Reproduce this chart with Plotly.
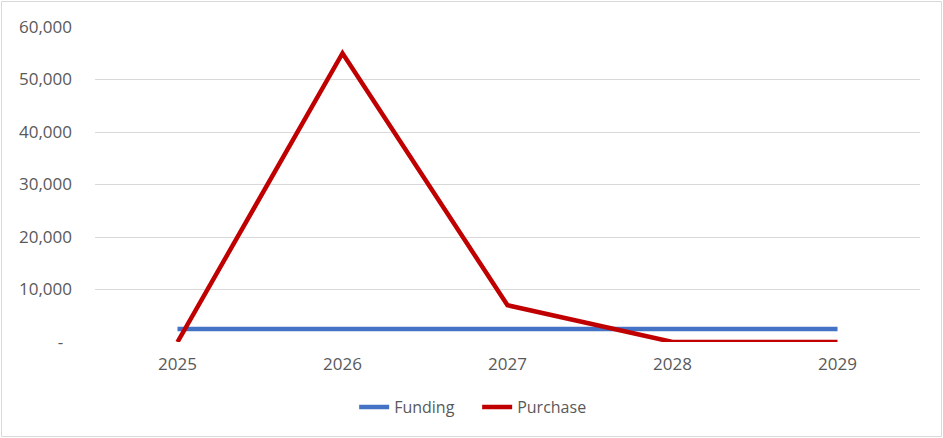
import plotly.graph_objects as go

years = ["2025", "2026", "2027", "2028", "2029"]
funding = [2500, 2500, 2500, 2500, 2500]
purchase = [0, 55000, 7000, 0, 0]

y_ticks = [0, 10000, 20000, 30000, 40000, 50000, 60000]
y_labels = ["-\u00a0\u00a0"] + [f"{v:,}" for v in y_ticks[1:]]

W, H = 943, 438
ML, MR, MT, MB = 95, 23, 27, 96

fig = go.Figure()
fig.add_trace(go.Scatter(x=years, y=funding, mode="lines", name="Funding",
                         line=dict(color="#4472C4", width=4.5)))
fig.add_trace(go.Scatter(x=years, y=purchase, mode="lines", name="Purchase",
                         line=dict(color="#C00000", width=4.5)))

# light frame around the whole chart
pw, ph = W - ML - MR, H - MT - MB
fig.add_shape(type="rect", xref="paper", yref="paper",
              x0=(1.5 - ML) / pw, x1=(W - 1.5 - ML) / pw,
              y0=-(H - 1.5 - MT - ph) / ph, y1=(MT - 1.5) / ph + 1,
              line=dict(color="#D9D9D9", width=1), layer="below")

fig.update_layout(
    width=W, height=H,
    margin=dict(l=ML, r=MR, t=MT, b=MB, autoexpand=False),
    paper_bgcolor="white", plot_bgcolor="white",
    font=dict(family="Open Sans, Segoe UI, sans-serif", size=17, color="#595959"),
    showlegend=True,
    legend=dict(orientation="h", xref="container", yref="container",
                x=0.506, xanchor="center", y=1 - 407 / H, yanchor="middle",
                bgcolor="rgba(0,0,0,0)", entrywidth=78, entrywidthmode="pixels",
                font=dict(size=16, color="#595959")),
    xaxis=dict(type="category", range=[-0.5, 4.5], showgrid=False,
               zeroline=False, showline=False, ticks="",
               ticklabelstandoff=10),
    yaxis=dict(range=[0, 60000], tickvals=y_ticks, ticktext=y_labels,
               showgrid=True, gridcolor="#D9D9D9", gridwidth=1,
               zeroline=False, showline=False, ticks="",
               ticklabelstandoff=22),
)

fig.write_html("out.html")
